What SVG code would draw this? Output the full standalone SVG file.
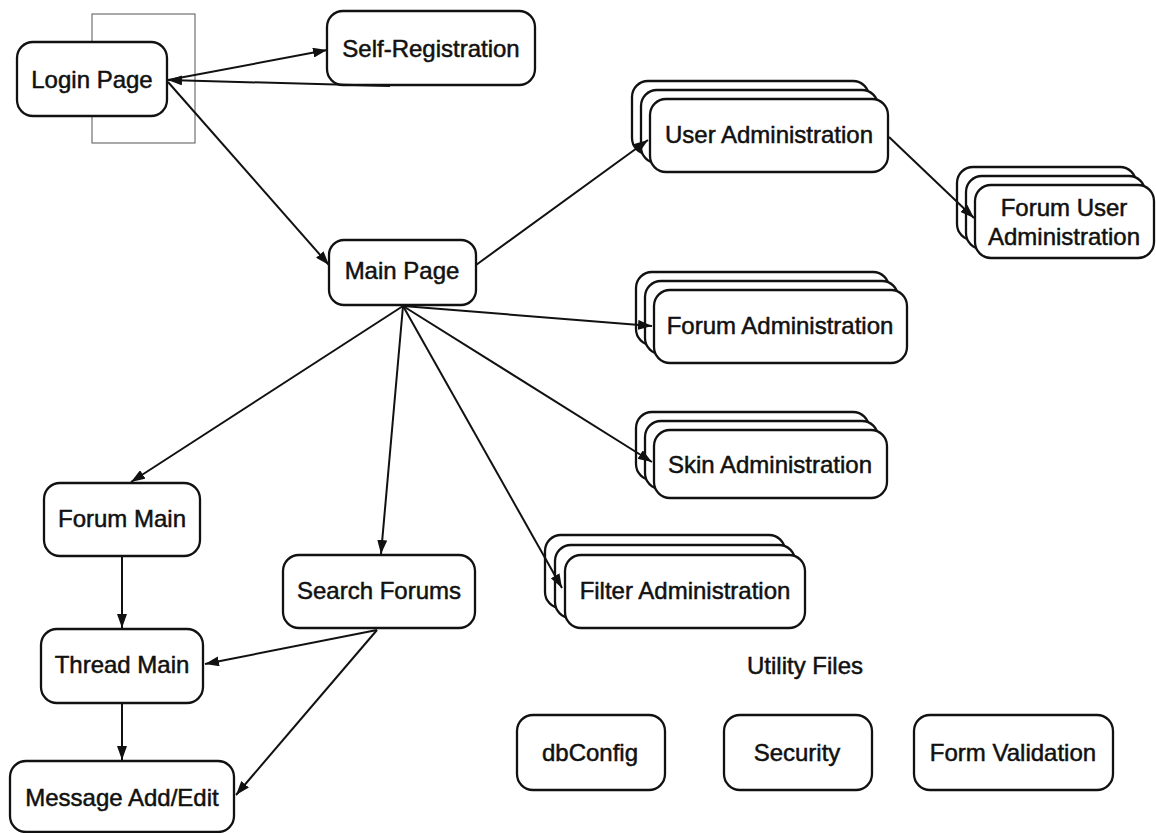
<svg xmlns="http://www.w3.org/2000/svg" width="1156" height="833" viewBox="0 0 1156 833">
<style>
.n{fill:#fff;stroke:#111;stroke-width:2.3}
.t{font-family:"Liberation Sans",Arial,sans-serif;font-size:24px;fill:#111;stroke:#111;stroke-width:0.5;text-anchor:middle;dominant-baseline:central}
.c line{stroke:#111;stroke-width:2;marker-end:url(#a)}
</style>
<defs>
<marker id="a" viewBox="0 0 14 10" refX="14" refY="5" markerWidth="14" markerHeight="10" markerUnits="userSpaceOnUse" orient="auto"><path d="M0,0L14,5L0,10z" fill="#111"/></marker>
</defs>
<rect width="1156" height="833" fill="#fff"/>
<rect x="92" y="14" width="103" height="129" fill="none" stroke="#555" stroke-width="1"/>
<g id="login"><rect class="n" x="17" y="42" width="150" height="74" rx="16"/><text class="t" x="92" y="79">Login Page</text></g>
<g id="selfreg"><rect class="n" x="327" y="11" width="208" height="74" rx="16"/><text class="t" x="431" y="48">Self-Registration</text></g>
<g id="main"><rect class="n" x="329" y="240" width="147" height="65" rx="15"/><text class="t" x="402" y="270">Main Page</text></g>
<g id="useradmin"><rect class="n" x="632" y="81" width="237" height="73" rx="16"/><rect class="n" x="641" y="90" width="237" height="73" rx="16"/><rect class="n" x="650" y="99" width="238" height="73" rx="16"/><text class="t" x="769" y="134">User Administration</text></g>
<g id="forumuseradmin"><rect class="n" x="957" y="167" width="179" height="73" rx="16"/><rect class="n" x="966" y="176" width="179" height="73" rx="16"/><rect class="n" x="975" y="185" width="179" height="73" rx="16"/><text class="t" x="1064" y="207">Forum User</text><text class="t" x="1064" y="236">Administration</text></g>
<g id="forumadmin"><rect class="n" x="636" y="272" width="253" height="73" rx="16"/><rect class="n" x="645" y="281" width="253" height="73" rx="16"/><rect class="n" x="654" y="290" width="253" height="73" rx="16"/><text class="t" x="780" y="325">Forum Administration</text></g>
<g id="skinadmin"><rect class="n" x="636" y="412" width="233" height="68" rx="16"/><rect class="n" x="645" y="421" width="233" height="68" rx="16"/><rect class="n" x="654" y="430" width="233" height="68" rx="16"/><text class="t" x="770" y="464">Skin Administration</text></g>
<g id="filteradmin"><rect class="n" x="545" y="535" width="240" height="73" rx="16"/><rect class="n" x="555" y="545" width="240" height="73" rx="16"/><rect class="n" x="565" y="555" width="240" height="73" rx="16"/><text class="t" x="685" y="590">Filter Administration</text></g>
<g id="forummain"><rect class="n" x="44" y="483" width="156" height="73" rx="16"/><text class="t" x="122" y="518">Forum Main</text></g>
<g id="search"><rect class="n" x="283" y="555" width="192" height="73" rx="16"/><text class="t" x="379" y="590">Search Forums</text></g>
<g id="threadmain"><rect class="n" x="41" y="629" width="162" height="74" rx="16"/><text class="t" x="122" y="664">Thread Main</text></g>
<g id="message"><rect class="n" x="10" y="761" width="224" height="71" rx="16"/><text class="t" x="122" y="797">Message Add/Edit</text></g>
<text class="t" x="805" y="665">Utility Files</text>
<g id="dbconfig"><rect class="n" x="517" y="715" width="148" height="75" rx="16"/><text class="t" x="590" y="752">dbConfig</text></g>
<g id="security"><rect class="n" x="724" y="715" width="148" height="75" rx="16"/><text class="t" x="797" y="752">Security</text></g>
<g id="formval"><rect class="n" x="914" y="715" width="199" height="75" rx="16"/><text class="t" x="1013" y="752">Form Validation</text></g>
<g class="c" id="connectors">
<line x1="168" y1="80" x2="327" y2="50"/>
<line x1="390" y1="86" x2="168" y2="80"/>
<line x1="168" y1="82" x2="329" y2="265"/>
<line x1="476" y1="265" x2="648" y2="140"/>
<line x1="889" y1="137" x2="974" y2="218"/>
<line x1="403" y1="306" x2="652" y2="326"/>
<line x1="403" y1="306" x2="652" y2="462"/>
<line x1="403" y1="306" x2="562" y2="588"/>
<line x1="403" y1="306" x2="381" y2="554"/>
<line x1="403" y1="306" x2="131" y2="482"/>
<line x1="122" y1="556" x2="122" y2="628"/>
<line x1="122" y1="703" x2="122" y2="760"/>
<line x1="377" y1="630" x2="205" y2="664"/>
<line x1="377" y1="630" x2="236" y2="795"/>
</g>
</svg>
